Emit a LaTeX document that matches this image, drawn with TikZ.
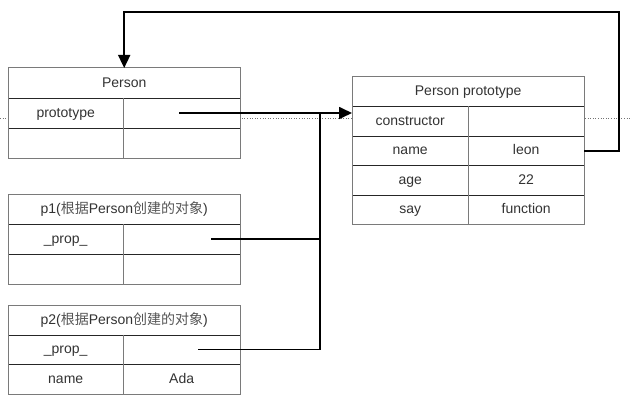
\documentclass[tikz,border=0pt]{standalone}
\usepackage{fontspec}
\setmainfont{Liberation Sans}
\newfontfamily\cjk{Noto Sans CJK SC}
\usetikzlibrary{arrows.meta}
\definecolor{txt}{HTML}{333333}
\definecolor{frame}{HTML}{7A7A7A}
\definecolor{hanzi}{HTML}{555555}
\begin{document}
\begin{tikzpicture}[x=1pt,y=-1pt,
  cell/.style args={#1/#2}{fill=white, inner sep=0pt, anchor=north west,
    minimum width=#1, minimum height=#2, text=txt,
    text height=9pt, text depth=1pt,
    font=\fontsize{14}{16}\selectfont},
  outer/.style={draw=frame, line width=1pt},
  rowline/.style={draw=black!85, line width=0.8pt},
  colline/.style={draw=frame, line width=1pt},
  conn/.style={draw=black, line width=1.7pt},
  tip/.style={-{Triangle[length=13pt,width=12pt]}},
  guide/.style={draw=gray!90!black, dotted, line width=0.6pt}
]
\useasboundingbox (0,0) rectangle (632,409);

% faint horizontal guide, hidden behind the tables
\coordinate (gl) at (0,118);
\coordinate (gr) at (632,118);
\draw[guide] (gl) -- (gr);

% ---- Person ----
\node[cell=232pt/30pt] (PH) at (8,68) {Person};
\node[cell=115pt/30pt] (Pk1) at (8,98) {prototype};
\node[cell=117pt/30pt] (Pv1) at (123,98) {};
\node[cell=115pt/30pt] (Pk2) at (8,128) {};
\node[cell=117pt/30pt] (Pv2) at (123,128) {};
\draw[rowline] (PH.south west) -- (PH.south east);
\draw[rowline] (Pk1.south west) -- (Pv1.south east);
\draw[colline] (Pk1.north east) -- (Pk2.south east);
\draw[outer] (PH.north west) rectangle (Pv2.south east);

% ---- Person prototype ----
\node[cell=232pt/29.5pt] (TH) at (352,77) {Person prototype};
\node[cell=116pt/29.5pt] (Tk1) at (352,106.5) {constructor};
\node[cell=116pt/29.5pt] (Tv1) at (468,106.5) {};
\node[cell=116pt/29.5pt] (Tk2) at (352,136) {name};
\node[cell=116pt/29.5pt] (Tv2) at (468,136) {leon};
\node[cell=116pt/29.5pt] (Tk3) at (352,165.5) {age};
\node[cell=116pt/29.5pt] (Tv3) at (468,165.5) {22};
\node[cell=116pt/29.5pt] (Tk4) at (352,195) {say};
\node[cell=116pt/29.5pt] (Tv4) at (468,195) {function};
\draw[rowline] (TH.south west) -- (TH.south east);
\draw[rowline] (Tk1.south west) -- (Tv1.south east);
\draw[rowline] (Tk2.south west) -- (Tv2.south east);
\draw[rowline] (Tk3.south west) -- (Tv3.south east);
\draw[colline] (Tk1.north east) -- (Tk4.south east);
\draw[outer] (TH.north west) rectangle (Tv4.south east);

% ---- p1 ----
\node[cell=232pt/30pt] (AH) at (8,194) {p1({\cjk\color{hanzi}根据}Person{\cjk\color{hanzi}创建的对象})};
\node[cell=115pt/30pt] (Ak1) at (8,224) {\_prop\_};
\node[cell=117pt/30pt] (Av1) at (123,224) {};
\node[cell=115pt/30pt] (Ak2) at (8,254) {};
\node[cell=117pt/30pt] (Av2) at (123,254) {};
\draw[rowline] (AH.south west) -- (AH.south east);
\draw[rowline] (Ak1.south west) -- (Av1.south east);
\draw[colline] (Ak1.north east) -- (Ak2.south east);
\draw[outer] (AH.north west) rectangle (Av2.south east);

% ---- p2 ----
\node[cell=232pt/29.7pt] (BH) at (8,305) {p2({\cjk\color{hanzi}根据}Person{\cjk\color{hanzi}创建的对象})};
\node[cell=115pt/29.7pt] (Bk1) at (8,334.7) {\_prop\_};
\node[cell=117pt/29.7pt] (Bv1) at (123,334.7) {};
\node[cell=115pt/29.7pt] (Bk2) at (8,364.4) {name};
\node[cell=117pt/29.7pt] (Bv2) at (123,364.4) {Ada};
\draw[rowline] (BH.south west) -- (BH.south east);
\draw[rowline] (Bk1.south west) -- (Bv1.south east);
\draw[colline] (Bk1.north east) -- (Bk2.south east);
\draw[outer] (BH.north west) rectangle (Bv2.south east);

% ---- connectors ----
\coordinate (ps) at (179,113);
\coordinate (join) at (320,113);
\coordinate (as) at (211,239);
\coordinate (bs) at (198,349.5);
\coordinate (loopT) at (619,12);

\draw[conn,tip] (ps) -- (ps -| Tk1.west);
\draw[conn] (as) -| (join);
\draw[conn] (bs) -| (join);
\draw[conn,tip] (Tv2.east) -| (loopT) -| (PH.north);
\end{tikzpicture}
\end{document}
